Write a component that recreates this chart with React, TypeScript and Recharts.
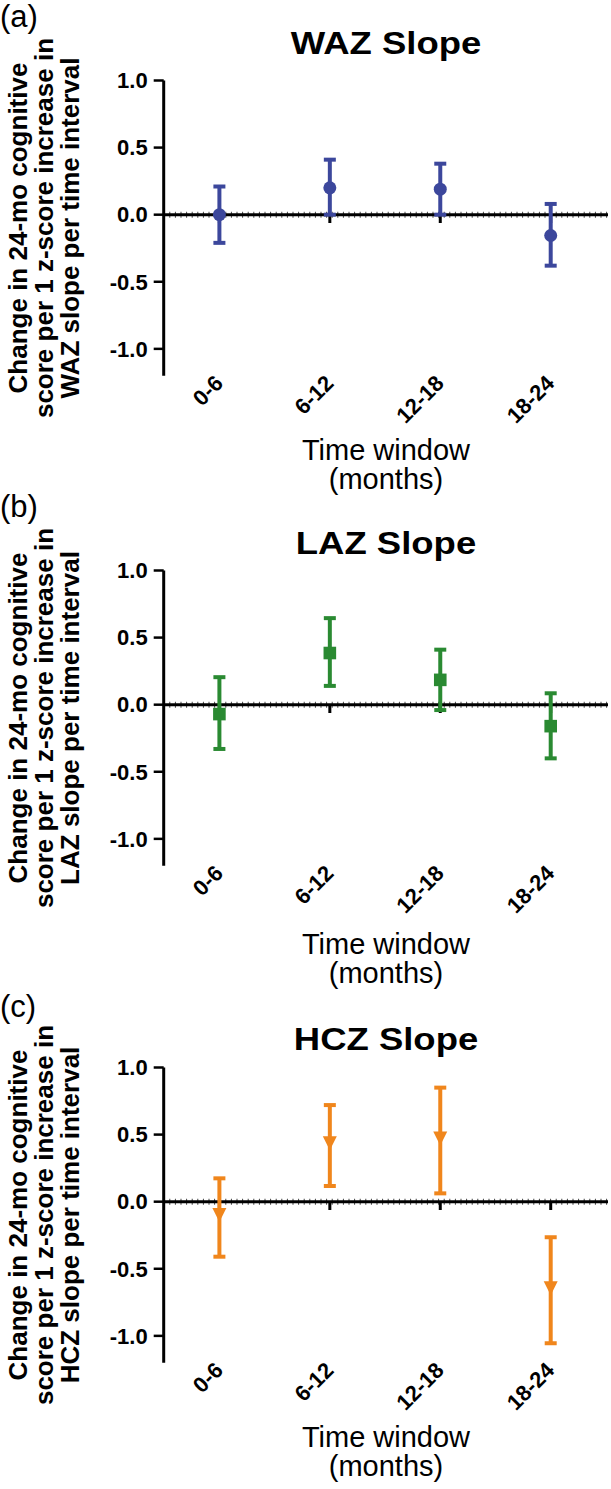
import React from "react";
import { ComposedChart, Line, XAxis, YAxis, ErrorBar, ReferenceLine } from "recharts";

const FONT = '"Liberation Sans", Arial, Helvetica, sans-serif';

// categories + axis ticks
const windows = ["0-6", "6-12", "12-18", "18-24"];
const yTicks = [-1, -0.5, 0, 0.5, 1];

// WAZ slope: estimate and 95% CI
const wazMean = [0.0, 0.2, 0.19, -0.155];
const wazLow = [-0.21, 0.0, 0.0, -0.38];
const wazHigh = [0.21, 0.41, 0.38, 0.08];

// LAZ slope
const lazMean = [-0.07, 0.385, 0.185, -0.16];
const lazLow = [-0.33, 0.14, -0.04, -0.4];
const lazHigh = [0.205, 0.645, 0.41, 0.085];

// HCZ slope
const hczMean = [-0.1, 0.435, 0.47, -0.645];
const hczLow = [-0.41, 0.117, 0.062, -1.055];
const hczHigh = [0.174, 0.72, 0.85, -0.265];

const buildRows = (mean: number[], low: number[], high: number[]) =>
  windows.map((w, i) => ({
    window: w,
    value: mean[i],
    err: [mean[i] - low[i], high[i] - mean[i]],
  }));

const XTick = (props: any) => {
  const { x, y, payload } = props;
  return (
    <g transform={`translate(${x + 5},${y + 9})`}>
      <text
        x={0}
        y={0}
        textAnchor="end"
        transform="rotate(-45)"
        fontSize={22}
        fontWeight="bold"
        fontFamily={FONT}
        fill="#000"
      >
        {payload.value}
      </text>
    </g>
  );
};

const makeDot = (shape: string, color: string) => (p: any) => {
  const { cx, cy, index } = p;
  if (shape === "square") {
    return <rect key={`d${index}`} x={cx - 6.3} y={cy - 6.3} width={12.6} height={12.6} fill={color} />;
  }
  if (shape === "triangle") {
    return (
      <polygon
        key={`d${index}`}
        points={`${cx - 7},${cy - 7} ${cx + 7},${cy - 7} ${cx},${cy + 7}`}
        fill={color}
      />
    );
  }
  return <circle key={`d${index}`} cx={cx} cy={cy} r={6.5} fill={color} />;
};

interface PanelProps {
  top: number;
  letter: string;
  letterTop: number;
  title: string;
  titleTop: number;
  xLabelTop: number;
  yLabel: string[];
  rows: any[];
  color: string;
  shape: string;
}

const Panel = ({ top, letter, letterTop, title, titleTop, xLabelTop, yLabel, rows, color, shape }: PanelProps) => {
  return (
    <div style={{ position: "absolute", left: 0, top, width: 611, height: 496, fontFamily: FONT }}>
      <div style={{ position: "absolute", left: 0, top: letterTop, fontSize: 31, lineHeight: "31px" }}>
        {letter}
      </div>
      <div
        style={{
          position: "absolute",
          left: 236,
          top: titleTop,
          width: 300,
          textAlign: "center",
          fontSize: 32,
          lineHeight: "32px",
          fontWeight: "bold",
          transform: "scaleX(1.14)",
        }}
      >
        {title}
      </div>
      <div
        style={{
          position: "absolute",
          left: 44 - 210,
          top: 228 - 39,
          width: 420,
          height: 78,
          transform: "rotate(-90deg)",
          textAlign: "center",
          fontSize: 26,
          lineHeight: "26px",
          fontWeight: "bold",
          whiteSpace: "nowrap",
        }}
      >
        {yLabel.map((l) => (
          <div key={l}>{l}</div>
        ))}
      </div>
      <div
        style={{
          position: "absolute",
          left: 236,
          top: xLabelTop,
          width: 300,
          textAlign: "center",
          fontSize: 29,
          lineHeight: "29px",
        }}
      >
        <div>Time window</div>
        <div>(months)</div>
      </div>
      <div style={{ position: "absolute", left: 0, top: 0 }}>
        <ComposedChart
          width={611}
          height={440}
          data={rows}
          margin={{ top: 80.5, right: 3, bottom: 14.3, left: 0 }}
        >
          <XAxis
            dataKey="window"
            type="category"
            padding={{ left: 55.7, right: 57.3 }}
            axisLine={false}
            tickLine={false}
            tickSize={0}
            tickMargin={0}
            height={50}
            interval={0}
            tick={<XTick />}
          />
          <YAxis
            type="number"
            domain={[-1.2, 1]}
            ticks={yTicks}
            width={163.7}
            tickSize={10}
            tickMargin={6}
            tickFormatter={(v: number) => v.toFixed(1)}
            axisLine={{ stroke: "#000", strokeWidth: 3 }}
            tickLine={{ stroke: "#000", strokeWidth: 2.5 }}
            tick={{ fill: "#000", fontSize: 22, fontWeight: "bold", fontFamily: FONT }}
          />
          <ReferenceLine y={0} stroke="#444" strokeWidth={6} strokeDasharray="1 4.6" />
          <ReferenceLine y={0} stroke="#000" strokeWidth={3} />
          {windows.map((w) => (
            <ReferenceLine
              key={w}
              segment={[
                { x: w, y: 0 },
                { x: w, y: -0.062 },
              ]}
              stroke="#000"
              strokeWidth={3}
            />
          ))}
          <Line
            dataKey="value"
            stroke="none"
            isAnimationActive={false}
            activeDot={false}
            legendType="none"
            dot={makeDot(shape, color)}
          >
            <ErrorBar dataKey="err" direction="y" width={6} strokeWidth={4} stroke={color} />
          </Line>
        </ComposedChart>
      </div>
    </div>
  );
};

export default function App() {
  return (
    <div style={{ position: "relative", width: 611, height: 1489, background: "#fff" }}>
      <style>{"body{margin:0}"}</style>
      <Panel
        top={0}
        letter="(a)"
        letterTop={1}
        title="WAZ Slope"
        titleTop={27}
        xLabelTop={435.5}
        yLabel={["Change in 24-mo cognitive", "score per 1 z-score increase in", "WAZ slope per time interval"]}
        rows={buildRows(wazMean, wazLow, wazHigh)}
        color="#3c479c"
        shape="circle"
      />
      <Panel
        top={490.3}
        letter="(b)"
        letterTop={1}
        title="LAZ Slope"
        titleTop={37}
        xLabelTop={439.5}
        yLabel={["Change in 24-mo cognitive", "score per 1 z-score increase in", "LAZ slope per time interval"]}
        rows={buildRows(lazMean, lazLow, lazHigh)}
        color="#2a8a32"
        shape="square"
      />
      <Panel
        top={986.8}
        letter="(c)"
        letterTop={4}
        title="HCZ Slope"
        titleTop={36}
        xLabelTop={436.5}
        yLabel={["Change in 24-mo cognitive", "score per 1 z-score increase in", "HCZ slope per time interval"]}
        rows={buildRows(hczMean, hczLow, hczHigh)}
        color="#f0861c"
        shape="triangle"
      />
    </div>
  );
}
